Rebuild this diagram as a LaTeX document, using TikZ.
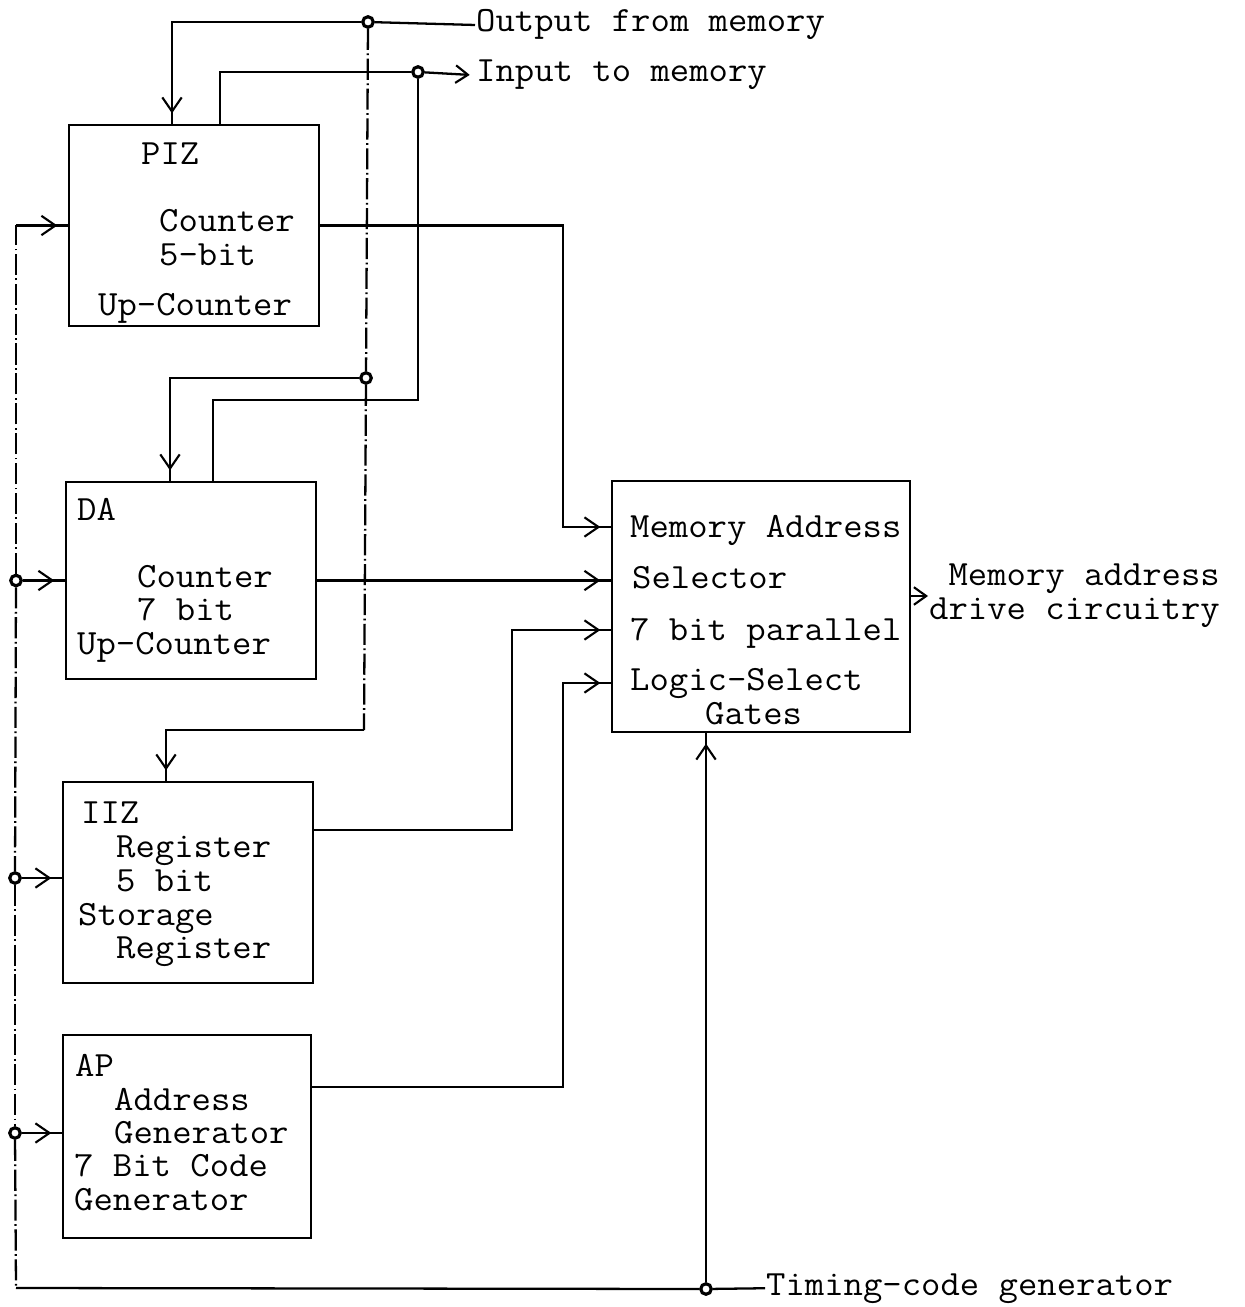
\documentclass[tikz,border=0pt]{standalone}
\usepackage{fontspec}
\setmonofont[FakeStretch=1.06]{Latin Modern Mono}
\usetikzlibrary{arrows.meta,decorations.markings}
\tikzset{
  blk/.style={draw, rectangle, inner sep=0pt},
  txt/.style={anchor=base west, inner sep=0pt},
  jn/.style={circle, draw, line width=1.8pt, fill=white, inner sep=0pt, minimum size=6pt},
  feed/.style={postaction={decorate}, decoration={markings,
      mark=at position -6pt with {\arrow{Straight Barb[length=8pt,width=11pt,line width=1.2pt]}}}},
  bus/.style={dash pattern=on 12pt off 2pt on 1pt off 2pt},
  barb/.style={-{Straight Barb[length=7pt,width=10pt,line width=1.2pt]}},
}
\begin{document}
\begin{tikzpicture}[x=0.02cm,y=-0.02cm,line width=1.3pt,
    font=\ttfamily\fontsize{20.2}{19.3}\selectfont]
\useasboundingbox (0,0) rectangle (1244,1307);
% blocks
\node[blk, minimum width=5cm, minimum height=4.02cm] (piz) at (194,225.5) {};
\node[blk, minimum width=5cm, minimum height=3.94cm] (da) at (191,580.5) {};
\node[blk, minimum width=5cm, minimum height=4.02cm] (iiz) at (188,882.5) {};
\node[blk, minimum width=4.96cm, minimum height=4.06cm] (ap) at (187,1136.5) {};
\node[blk, minimum width=5.96cm, minimum height=5.02cm] (sel) at (761,606.5) {};
% block texts
\node[txt] (piz1) at (140,165) {PIZ};
\node[txt] (piz2) at (158,232) {Counter};
\node[txt] (piz3) at (158,266) {5-bit};
\node[txt] (piz4) at (97,316) {Up-Counter};
\node[txt] (da1) at (76,520) {DA};
\node[txt] (da2) at (136,587) {Counter};
\node[txt] (da3) at (136,620) {7 bit};
\node[txt] (da4) at (76,654) {Up-Counter};
\node[txt] (iiz1) at (80,823) {IIZ};
\node[txt] (iiz2) at (115,857) {Register};
\node[txt] (iiz3) at (115,891) {5 bit};
\node[txt] (iiz4) at (77,925) {Storage};
\node[txt] (iiz5) at (115,958) {Register};
\node[txt] (ap1) at (74,1076) {AP};
\node[txt] (ap2) at (113,1110) {Address};
\node[txt] (ap3) at (113,1143) {Generator};
\node[txt] (ap4) at (73,1176) {7 Bit Code};
\node[txt] (ap5) at (73,1210) {Generator};
\node[txt] (sel1) at (629,537) {Memory Address};
\node[txt] (sel2) at (631,588) {Selector};
\node[txt] (sel3) at (629,640) {7 bit parallel};
\node[txt] (sel4) at (629,690) {Logic-Select};
\node[txt] (sel5) at (704,724) {Gates};
% outside texts
\node[txt] (outtxt) at (475,32) {Output from memory};
\node[txt] (intxt) at (475,82) {Input to memory};
\node[txt] (tmtxt) at (765,1295) {Timing-code generator};
\node[anchor=west, align=right, inner sep=0pt] (drv) at (928,596) {Memory address\\drive circuitry};
% junctions
\node[jn] (outj) at (368,22) {};
\node[jn] (inj) at (418,72) {};
\node[jn] (daj) at (366,378) {};
\node[jn] (bj1) at (16,580.5) {};
\node[jn] (bj2) at (15,878) {};
\node[jn] (bj3) at (15,1133) {};
\node[jn] (tj) at (706,1289) {};
% memory lines
\draw (outj) -- (outtxt.west);
\draw[feed] (outj) -| (172,0 |- piz.north);
\draw (220,0 |- piz.north) |- (inj);
\draw[barb, shorten >=3pt] (inj) -- (intxt.west);
\draw (inj) |- (213,400) -- (213,0 |- da.north);
\draw[bus] (outj) -- (daj);
\draw[feed] (daj) -| (170,0 |- da.north);
\draw[bus] (daj) -- (364,730);
\draw[feed] (364,730) -| (166,0 |- iiz.north);
% timing bus
\draw[bus] (bj1) -- (bj1 |- piz.west);
\draw[feed] (bj1 |- piz.west) -- (piz.west);
\draw[bus] (bj1) -- (bj2);
\draw[bus] (bj2) -- (bj3);
\draw[bus] (bj3) -- (16,1288);
\draw (16,1288) -- (tj);
\draw[feed] (bj1) -- (bj1 -| da.west);
\draw[feed] (bj2) -- (bj2 -| iiz.west);
\draw[feed] (bj3) -- (bj3 -| ap.west);
\draw (tj) -- (tmtxt.west);
\draw[feed] (tj) -- (tj |- sel.south);
% outputs to selector
\draw[feed] (piz.east) -| (563,527) -- (sel.west |- 0,527);
\draw[feed] (da.east) -- (da.east -| sel.west);
\draw[feed] (iiz.east |- 0,830) -| (512,630) -- (sel.west |- 0,630);
\draw[feed] (ap.east |- 0,1087) -| (563,683) -- (sel.west |- 0,683);
\draw[barb] (sel.east |- drv.west) -- (drv.west);
\end{tikzpicture}
\end{document}
